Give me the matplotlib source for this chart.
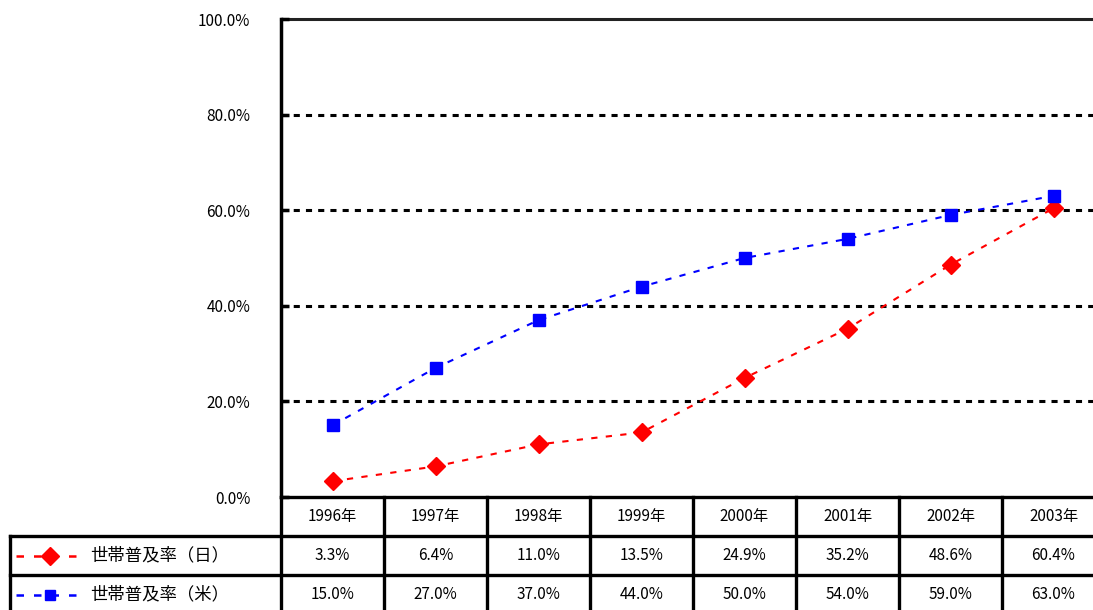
import matplotlib
matplotlib.use("Agg")
import matplotlib.pyplot as plt

plt.rcParams['font.family'] = ['Noto Sans CJK JP', 'DejaVu Sans']

years = ['1996年', '1997年', '1998年', '1999年', '2000年', '2001年', '2002年', '2003年']
japan = [3.3, 6.4, 11.0, 13.5, 24.9, 35.2, 48.6, 60.4]
usa = [15.0, 27.0, 37.0, 44.0, 50.0, 54.0, 59.0, 63.0]
series_names = ['世帯普及率（日）', '世帯普及率（米）']
yticks = [0, 20, 40, 60, 80, 100]

W, H = 1093, 610
fig = plt.figure(figsize=(W / 100, H / 100), dpi=100)
# plot area runs past the right edge of the figure
ax = fig.add_axes([281 / W, 113 / H, 824 / W, 478 / H])

x = list(range(len(years)))
ax.set_xlim(-0.5, len(years) - 0.5)
ax.set_ylim(0, 100)

# dashed horizontal grid
for v in yticks[1:-1]:
    ax.axhline(v, color='black', lw=2.2, linestyle=(0, (2, 2)), zorder=1)
ax.axhline(100, color='#222222', lw=2.2, zorder=1, clip_on=False)

ax.plot(x, japan, color='red', lw=1.5, linestyle=(0, (3, 4)),
        marker='D', ms=9, markeredgecolor='red', zorder=3, clip_on=False)
ax.plot(x, usa, color='blue', lw=1.5, linestyle=(0, (3, 4)),
        marker='s', ms=8.5, markeredgecolor='blue', zorder=3, clip_on=False)

for s in ['top', 'right', 'bottom']:
    ax.spines[s].set_visible(False)
ax.spines['left'].set_linewidth(2.5)
ax.set_xticks([])
ax.set_yticks(yticks)
ax.set_yticklabels([f'{v:.1f}%' for v in yticks], fontsize=11)
ax.tick_params(axis='y', direction='in', length=6, width=2.5, pad=22)

# data table under the plot
tr = ax.get_xaxis_transform()
x_left = -0.5 - (281 - 10) / 103.0
row_h = 39 / 478
rows = [0, -row_h, -2 * row_h, -3 * row_h]
lw_tab = 2.4
x_right = len(years) - 0.5

ax.plot([-0.5, x_right], [rows[0], rows[0]], color='black', lw=lw_tab,
        transform=tr, clip_on=False)
for r in rows[1:]:
    ax.plot([x_left, x_right], [r, r], color='black', lw=lw_tab,
            transform=tr, clip_on=False)
for i in range(len(years) + 1):
    xv = -0.5 + i
    ax.plot([xv, xv], [rows[0], rows[-1]], color='black', lw=lw_tab,
            transform=tr, clip_on=False)
ax.plot([x_left, x_left], [rows[1], rows[-1]], color='black', lw=lw_tab,
        transform=tr, clip_on=False)

for i, yr in enumerate(years):
    ax.text(i, (rows[0] + rows[1]) / 2, yr, transform=tr, ha='center',
            va='center', fontsize=11)
    ax.text(i, (rows[1] + rows[2]) / 2, f'{japan[i]:.1f}%', transform=tr,
            ha='center', va='center', fontsize=11)
    ax.text(i, (rows[2] + rows[3]) / 2, f'{usa[i]:.1f}%', transform=tr,
            ha='center', va='center', fontsize=11)

# legend keys inside the row label cells
def px(p):
    return -0.5 - (281 - p) / 103.0

for k, (name, color, mk, ms) in enumerate([(series_names[0], 'red', 'D', 9),
                                           (series_names[1], 'blue', 's', 7)]):
    yc = (rows[k + 1] + rows[k + 2]) / 2
    ax.plot([px(16), px(84)], [yc, yc], color=color, lw=1.8,
            linestyle=(0, (3, 4)), transform=tr, clip_on=False)
    ax.plot([px(50)], [yc], color=color, marker=mk, ms=ms, transform=tr,
            clip_on=False)
    ax.text(px(90), yc, name, transform=tr, ha='left', va='center',
            fontsize=12.5)

fig.savefig('out.png', dpi=100)
